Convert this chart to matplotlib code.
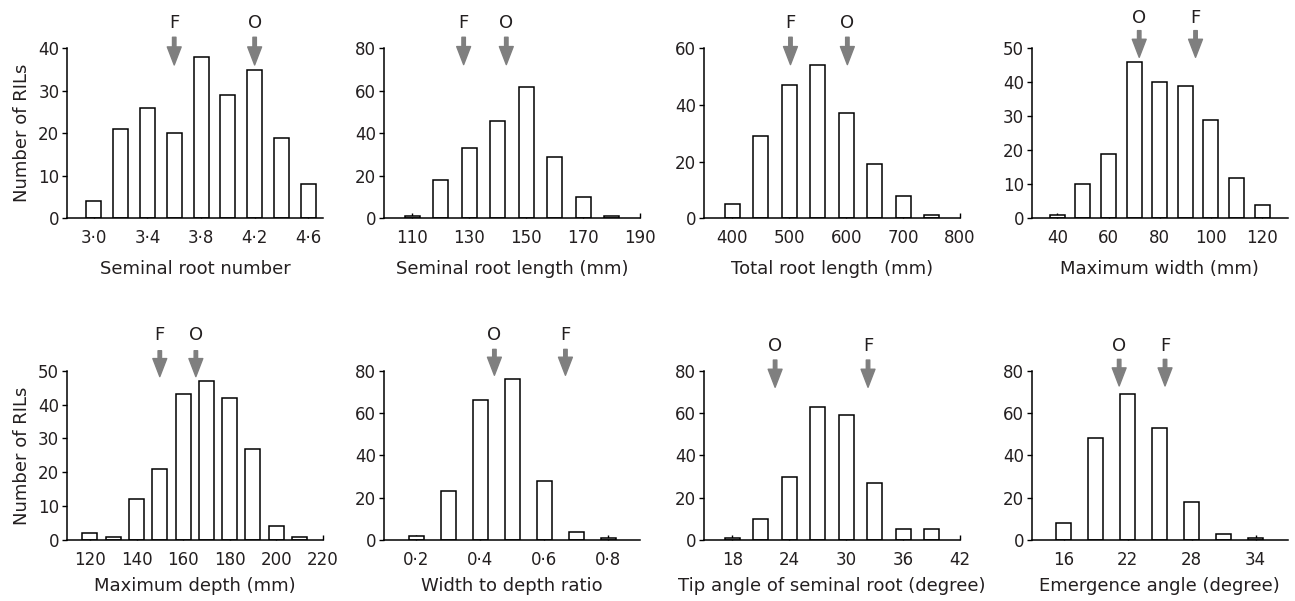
import matplotlib
matplotlib.use("Agg")
import matplotlib.pyplot as plt

plt.rcParams['font.family'] = ['DejaVu Sans']

TXT = '#231f20'
GRAY = '#7f7f7f'

# ---------------- data ----------------
titles = ["Seminal root number", "Seminal root length (mm)", "Total root length (mm)",
          "Maximum width (mm)", "Maximum depth (mm)", "Width to depth ratio",
          "Tip angle of seminal root (degree)", "Emergence angle (degree)"]

bins_1 = [3.0, 3.2, 3.4, 3.6, 3.8, 4.0, 4.2, 4.4, 4.6]
counts_1 = [4, 21, 26, 20, 38, 29, 35, 19, 8]
bins_2 = [110, 120, 130, 140, 150, 160, 170, 180]
counts_2 = [1, 18, 33, 46, 62, 29, 10, 1]
bins_3 = [400, 450, 500, 550, 600, 650, 700, 750]
counts_3 = [5, 29, 47, 54, 37, 19, 8, 1]
bins_4 = [40, 50, 60, 70, 80, 90, 100, 110, 120]
counts_4 = [1, 10, 19, 46, 40, 39, 29, 12, 4]
bins_5 = [120, 130, 140, 150, 160, 170, 180, 190, 200, 210]
counts_5 = [2, 1, 12, 21, 43, 47, 42, 27, 4, 1]
bins_6 = [0.2, 0.3, 0.4, 0.5, 0.6, 0.7, 0.8]
counts_6 = [2, 23, 66, 76, 28, 4, 1]
bins_7 = [18, 21, 24, 27, 30, 33, 36, 39]
counts_7 = [1, 10, 30, 63, 59, 27, 5, 5]
bins_8 = [16, 19, 22, 25, 28, 31, 34]
counts_8 = [8, 48, 69, 53, 18, 3, 1]

xticks_1 = [3.0, 3.4, 3.8, 4.2, 4.6]
xticklabels_1 = ["3·0", "3·4", "3·8", "4·2", "4·6"]
xticks_2 = [110, 130, 150, 170, 190]
xticks_3 = [400, 500, 600, 700, 800]
xticks_4 = [40, 60, 80, 100, 120]
xticks_5 = [120, 140, 160, 180, 200, 220]
xticks_6 = [0.2, 0.4, 0.6, 0.8]
xticklabels_6 = ["0·2", "0·4", "0·6", "0·8"]
xticks_7 = [18, 24, 30, 36, 42]
xticks_8 = [16, 22, 28, 34]

ymax_list = [40, 80, 60, 50, 50, 80, 80, 80]
ystep_list = [10, 20, 20, 10, 10, 20, 20, 20]

# parental markers (F and O)
markers_1 = [("F", 3.6), ("O", 4.2)]
markers_2 = [("F", 128), ("O", 143)]
markers_3 = [("F", 502), ("O", 602)]
markers_4 = [("O", 72), ("F", 94)]
markers_5 = [("F", 150), ("O", 165.5)]
markers_6 = [("O", 0.445), ("F", 0.667)]
markers_7 = [("O", 22.5), ("F", 32.3)]
markers_8 = [("O", 21.2), ("F", 25.5)]

# ---------------- layout (style) ----------------
xlims = [(2.8, 4.71), (100, 190), (350, 800), (30, 130),
         (110, 220), (0.1, 0.9), (15, 42), (13, 37)]
W, H = 1295, 601
lefts = [67, 384, 704, 1031.7, 66.7, 384, 704, 1031.7]
bottoms = [218.3, 218.3, 218.3, 218.3, 540, 540, 540, 540]
heights = [170, 170, 170, 170, 169.3, 169.3, 169.3, 169.3]
labelpads = [9, 9, 9, 9, 5.5, 5.5, 5.5, 5.5]
axw = 256
bar_px = 15.0
# arrow top / tip / label positions in axes fraction
arrow_pos = [(1.065, 0.902, 1.147), (1.065, 0.904, 1.147), (1.065, 0.904, 1.147),
             (1.104, 0.947, 1.176), (1.118, 0.965, 1.21), (1.126, 0.973, 1.21),
             (1.063, 0.902, 1.143), (1.067, 0.910, 1.143)]

panels = [
    (bins_1, counts_1, xticks_1, xticklabels_1, markers_1),
    (bins_2, counts_2, xticks_2, None, markers_2),
    (bins_3, counts_3, xticks_3, None, markers_3),
    (bins_4, counts_4, xticks_4, None, markers_4),
    (bins_5, counts_5, xticks_5, None, markers_5),
    (bins_6, counts_6, xticks_6, xticklabels_6, markers_6),
    (bins_7, counts_7, xticks_7, None, markers_7),
    (bins_8, counts_8, xticks_8, None, markers_8),
]

fig = plt.figure(figsize=(W / 100, H / 100), dpi=100)

for i, (bins, counts, xt, xtl, marks) in enumerate(panels):
    ax = fig.add_axes([lefts[i] / W, 1 - bottoms[i] / H, axw / W, heights[i] / H])
    x0, x1 = xlims[i]
    width = bar_px * (x1 - x0) / axw
    ax.bar(bins, counts, width=width, color='white', edgecolor='black',
           linewidth=1.1, zorder=2)
    ax.set_xlim(x0, x1)
    ax.set_ylim(0, ymax_list[i])
    ax.set_yticks(list(range(0, ymax_list[i] + 1, ystep_list[i])))
    ax.set_xticks(xt)
    if xtl is not None:
        ax.set_xticklabels(xtl)
    ax.spines['top'].set_visible(False)
    ax.spines['right'].set_visible(False)
    for s in ('left', 'bottom'):
        ax.spines[s].set_linewidth(1.1)
        ax.spines[s].set_color('black')
    ax.tick_params(axis='x', direction='in', length=3.5, width=1.0, pad=8,
                   labelsize=12, labelcolor=TXT, color='black')
    ax.tick_params(axis='y', direction='out', length=3.5, width=1.0, pad=2,
                   labelsize=12, labelcolor=TXT, color='black')
    ax.set_xlabel(titles[i], fontsize=13, color=TXT, labelpad=labelpads[i])
    if i in (0, 4):
        ax.set_ylabel("Number of RILs", fontsize=13, color=TXT, labelpad=5)
    top, tip, lab_y = arrow_pos[i]
    for name, xv in marks:
        ax.annotate('', xy=(xv, tip), xytext=(xv, top),
                    xycoords=('data', 'axes fraction'),
                    textcoords=('data', 'axes fraction'),
                    arrowprops=dict(arrowstyle='simple,head_width=1.0,head_length=1.3,tail_width=0.25',
                                    color=GRAY, shrinkA=0, shrinkB=0, mutation_scale=10),
                    annotation_clip=False)
        ax.text(xv, lab_y, name, transform=ax.get_xaxis_transform(),
                ha='center', va='center', fontsize=13, color=TXT, clip_on=False)

fig.savefig("out.png", dpi=100)
